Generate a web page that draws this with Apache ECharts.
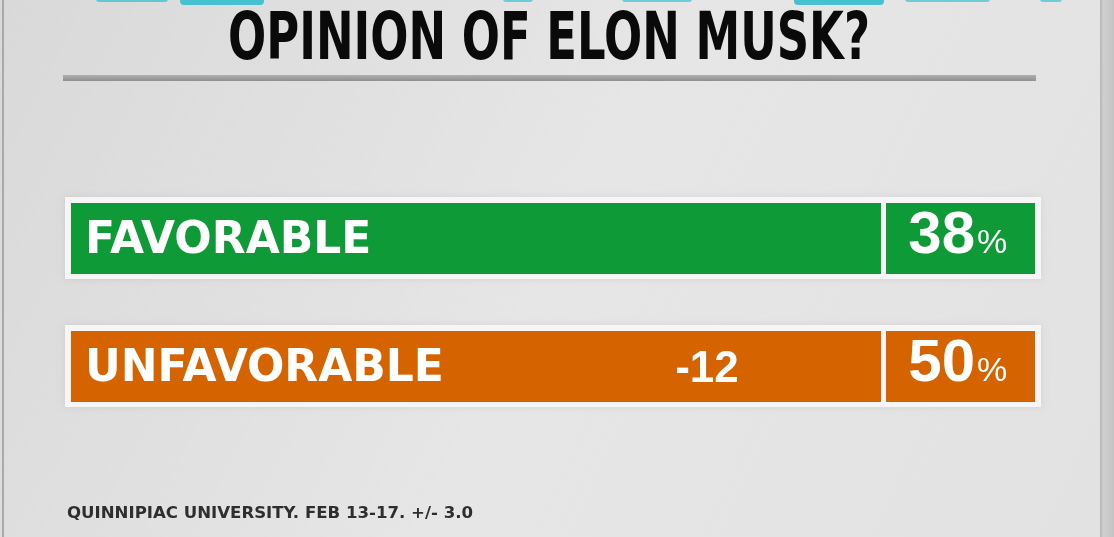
<!DOCTYPE html>
<html>
<head>
<meta charset="utf-8">
<script src="https://cdn.jsdelivr.net/npm/echarts@6/dist/echarts.min.js"></script>
<style>
html,body{margin:0;padding:0;background:#e0e0e0;}
#chart{width:1114px;height:537px;}
</style>
</head>
<body>
<div id="chart"></div>
<script>
// ---- data ----
const title = 'OPINION OF ELON MUSK?';
const categories = ['FAVORABLE', 'UNFAVORABLE'];
const values = [38, 50];
const netLabels = ['', '-12'];
const source = 'QUINNIPIAC UNIVERSITY. FEB 13-17. +/- 3.0';
const barColors = ['#0e9a37', '#d56400'];

// ---- helpers ----
function measure(font, text) {
  const c = document.createElement('canvas').getContext('2d');
  c.font = font;
  return c.measureText(text).width;
}
const titleFont = 'bold 66px "Liberation Sans Narrow", "DejaVu Sans Condensed", sans-serif';
const titleScale = 642 / measure(titleFont, title);
const sourceFont = 'bold 16px "DejaVu Sans", sans-serif';
const sourceScale = 406 / measure(sourceFont, source);

const chart = echarts.init(document.getElementById('chart'), null, {renderer: 'canvas'});

const option = {
  animation: false,
  backgroundColor: {
    type: 'linear', x: 0, y: 0, x2: 1, y2: 1,
    colorStops: [
      {offset: 0, color: '#d9d9d9'},
      {offset: 0.5, color: '#e6e6e6'},
      {offset: 1, color: '#e2e2e2'}
    ]
  },
  grid: {left: 71, right: 79, top: 174.5, height: 256},
  xAxis: {type: 'value', min: 0, max: 100, show: false},
  yAxis: {type: 'category', data: categories, inverse: true, show: false},
  graphic: [
    // left & right frame edges
    {type: 'rect', left: 2, top: 0, shape: {width: 2, height: 537}, style: {fill: '#a9a9a9'}, z: 1},
    {type: 'rect', left: 1100, top: 0, shape: {width: 14, height: 537},
      style: {fill: {type: 'linear', x: 0, y: 0, x2: 1, y2: 0, colorStops: [{offset: 0, color: '#b5b5b5'}, {offset: 0.25, color: '#cfcfcf'}, {offset: 1, color: '#c4c4c4'}]}}, z: 1},
    // teal fragments at top edge
    {type: 'rect', x: 96, y: -6, shape: {width: 72, height: 8, r: 3}, style: {fill: '#5ec9d5'}, z: 1},
    {type: 'rect', x: 180, y: -6, shape: {width: 84, height: 11, r: 4}, style: {fill: '#46c1cf'}, z: 1},
    {type: 'rect', x: 503, y: -6, shape: {width: 30, height: 8, r: 3}, style: {fill: '#6ccdd8'}, z: 1},
    {type: 'rect', x: 622, y: -6, shape: {width: 70, height: 8, r: 3}, style: {fill: '#6ccdd8'}, z: 1},
    {type: 'rect', x: 794, y: -6, shape: {width: 90, height: 11, r: 4}, style: {fill: '#46c1cf'}, z: 1},
    {type: 'rect', x: 905, y: -6, shape: {width: 85, height: 8, r: 3}, style: {fill: '#6ccdd8'}, z: 1},
    {type: 'rect', x: 1040, y: -6, shape: {width: 22, height: 8, r: 3}, style: {fill: '#6ccdd8'}, z: 1},
    // title
    {type: 'text', x: 549, y: 42, scaleX: titleScale, z: 5,
      style: {text: title, font: titleFont, fill: '#0a0a0a', align: 'center', verticalAlign: 'middle'}},
    // title rule
    {type: 'rect', x: 63, y: 75, shape: {width: 973, height: 6},
      style: {fill: {type: 'linear', x: 0, y: 0, x2: 0, y2: 1, colorStops: [{offset: 0, color: '#b0b0b0'}, {offset: 1, color: '#8f8f8f'}]}}, z: 5},
    // source
    {type: 'text', x: 67, y: 514, scaleX: sourceScale, z: 5,
      style: {text: source, font: sourceFont, fill: '#2e2e2e', align: 'left', verticalAlign: 'middle'}}
  ],
  series: [{
    type: 'custom',
    data: categories.map((c, i) => [values[i], i]),
    encode: {x: 0, y: 1},
    renderItem: function (params, api) {
      const cs = params.coordSys;
      const i = api.value(1);
      const val = api.value(0);
      const yc = api.coord([0, i])[1];
      const band = api.size([0, 1])[1];
      const h = band * 0.555;
      const y0 = yc - h / 2;
      const x0 = cs.x, x1 = cs.x + cs.width;
      const boxW = 149, gap = 5;
      const boxCx = x1 - boxW / 2;
      const color = barColors[i];
      const children = [
        {type: 'rect', shape: {x: x0 - 6, y: y0 - 6, width: cs.width + 12, height: h + 11},
          style: {fill: 'rgba(248,248,248,0.95)', shadowBlur: 6, shadowColor: 'rgba(0,0,0,0.08)'}},
        {type: 'rect', shape: {x: x0, y: y0, width: x1 - boxW - gap - x0, height: h}, style: {fill: color}},
        {type: 'rect', shape: {x: x1 - boxW, y: y0, width: boxW, height: h}, style: {fill: color}},
        {type: 'text', style: {text: categories[i], x: x0 + 14, y: yc + 3.5,
          font: 'bold 44px "DejaVu Sans", sans-serif', fill: '#ffffff', align: 'left', verticalAlign: 'middle'}},
        {type: 'text', style: {text: String(val), x: boxCx + 14.5, y: yc - 2,
          font: 'bold 60px "Liberation Sans", Arial, sans-serif', fill: '#ffffff', align: 'right', verticalAlign: 'middle'}},
        {type: 'text', style: {text: '%', x: boxCx + 16.5, y: yc + 5,
          font: '34px "Liberation Sans", Arial, sans-serif', fill: '#ffffff', align: 'left', verticalAlign: 'middle'}}
      ];
      if (netLabels[i]) {
        children.push({type: 'text', style: {text: netLabels[i], x: x1 - 328, y: yc + 3,
          font: 'bold 44px "Liberation Sans", Arial, sans-serif', fill: '#ffffff', align: 'center', verticalAlign: 'middle'}});
      }
      return {type: 'group', children: children};
    }
  }]
};
chart.setOption(option);
</script>
</body>
</html>
